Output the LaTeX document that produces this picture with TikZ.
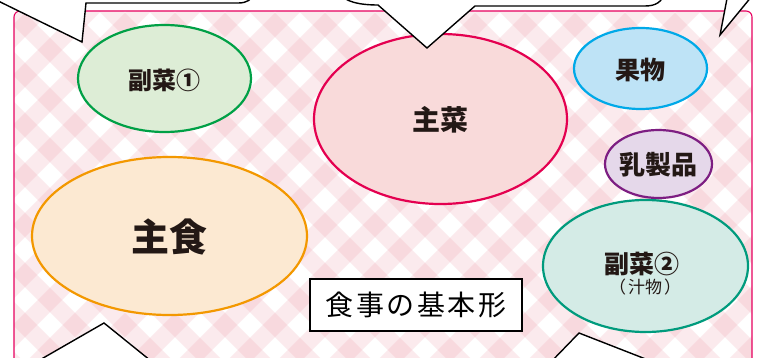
\documentclass[tikz,border=0pt]{standalone}
\usepackage{fontspec}
\setmainfont{Noto Sans CJK JP}
\usetikzlibrary{shapes.geometric}
\definecolor{framepink}{RGB}{230,0,95}
\definecolor{bandpink}{RGB}{238,150,165}
\definecolor{txt}{RGB}{35,24,21}
\definecolor{gfill}{RGB}{221,237,214}\definecolor{gline}{RGB}{0,160,70}
\definecolor{rfill}{RGB}{249,218,218}\definecolor{rline}{RGB}{228,0,80}
\definecolor{bfill}{RGB}{190,227,246}\definecolor{bline}{RGB}{0,169,232}
\definecolor{pfill}{RGB}{229,216,234}\definecolor{pline}{RGB}{125,30,130}
\definecolor{ofill}{RGB}{252,233,210}\definecolor{oline}{RGB}{243,152,0}
\definecolor{tfill}{RGB}{212,235,230}\definecolor{tline}{RGB}{0,155,125}
\tikzset{
  dish/.style={ellipse, inner sep=0pt, line width=2.2pt},
  lbl/.style={text=txt, font=\bfseries, inner sep=0pt},
  band/.style={draw=bandpink, line width=17pt, opacity=0.2},
  bubble/.style={fill=white, draw=black, line width=1.4pt, line join=miter},
}
\begin{document}
\begin{tikzpicture}[x=1pt,y=-1pt]
\useasboundingbox (0,0) rectangle (759,358);
\clip (0,0) rectangle (759,358);
% frame with gingham
\begin{scope}
  \clip[rounded corners=6pt] (14,11) rectangle (752,400);
  \fill[white] (14,11) rectangle (752,400);
  \foreach \i in {-450,-400,...,1250} {
    \draw[band] (\i,0) -- ++(430,430);
    \draw[band] (\i,0) -- ++(-430,430);
  }
\end{scope}
\draw[framepink, line width=1.1pt, rounded corners=6pt] (14,400) -- (14,11) -- (752,11) -- (752,400);
% dishes
\node[dish, draw=gline, fill=gfill, minimum width=173pt, minimum height=107pt] (fuku1) at (164.5,78.5) {};
\node[lbl, font=\bfseries\fontsize{24}{24}\selectfont] (fuku1t) at (164,80) {副菜①};
\node[dish, draw=rline, fill=rfill, minimum width=253pt, minimum height=170pt] (shusai) at (440.5,119) {};
\node[lbl, font=\bfseries\fontsize{28}{28}\selectfont] (shusait) at (440,120) {主菜};
\node[dish, draw=bline, fill=bfill, minimum width=133pt, minimum height=81pt] (kuda) at (640.5,68.5) {};
\node[lbl, font=\bfseries\fontsize{25}{25}\selectfont] (kudat) at (640,70) {果物};
\node[dish, draw=pline, fill=pfill, minimum width=107pt, minimum height=68pt] (nyu) at (658.5,164) {};
\node[lbl, font=\bfseries\fontsize{26}{26}\selectfont] (nyut) at (658,165) {乳製品};
\node[dish, draw=oline, fill=ofill, minimum width=275pt, minimum height=158pt] (shushoku) at (169.5,236) {};
\node[lbl, font=\bfseries\fontsize{38}{38}\selectfont] (shushokut) at (169,237) {主食};
\node[dish, draw=tline, fill=tfill, minimum width=205pt, minimum height=132pt] (fuku2) at (645.5,266) {};
\node[lbl, font=\bfseries\fontsize{25}{25}\selectfont] (fuku2t) at (642,264) {副菜②};
\node[text=txt, inner sep=0pt, font=\fontsize{17}{17}\selectfont] (shiru) at (645,287) {（\hspace{2pt}汁物\hspace{2pt}）};
% title box
\node[draw=black, fill=white, line width=1.3pt, minimum width=212pt, minimum height=52pt, inner sep=0pt,
      font=\fontsize{28}{28}\selectfont\addfontfeatures{LetterSpace=9}] (title) at (416,305) {食事の基本形};
% speech bubbles
\draw[bubble] (-10,-3) -- (82,42) -- (86,3) -- (238,3) .. controls (247,3) and (252,0) .. (254,-8) -- (-10,-8) -- cycle;
\draw[bubble] (338,-8) .. controls (344,2) and (360,5) .. (378,5) -- (427,48) -- (475,6) -- (645,6) .. controls (656,6) and (662,2) .. (665,-8) -- cycle;
\draw[bubble] (727.5,-4) -- (720,35) -- (752,-4) -- cycle;
\draw[bubble] (31,365) -- (104,323) -- (156,365) -- cycle;
\draw[bubble] (548,365) -- (579,333) -- (661,365) -- cycle;
\end{tikzpicture}
\end{document}
